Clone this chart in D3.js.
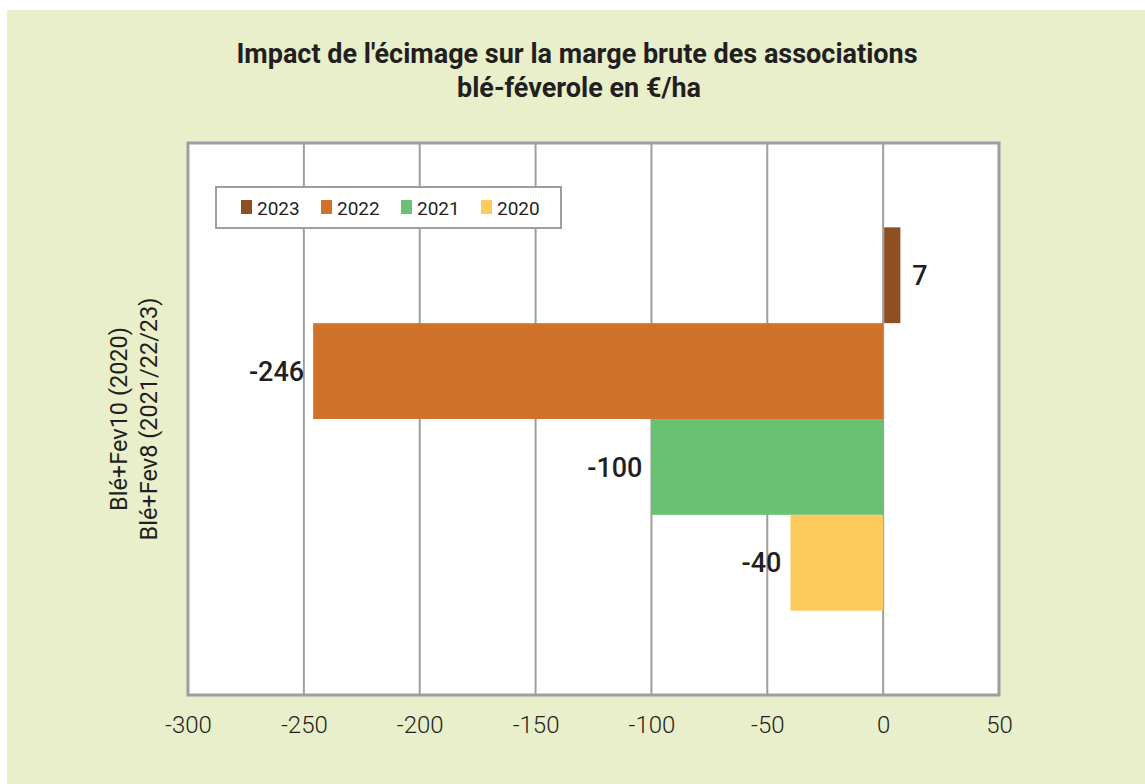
<!DOCTYPE html>
<html>
<head>
    <meta charset="utf-8">
    <title>Impact de l'écimage</title>
    <script src="https://cdn.jsdelivr.net/npm/d3@7/dist/d3.min.js"></script>
    <style>
        body { margin: 0; background: #fff; }
        .title { font-family: "Roboto", sans-serif; font-weight: bold; fill: #231f20; }
        .tick-label { font-family: "Roboto", sans-serif; font-weight: 300; fill: #231f20; }
        .legend-label { font-family: "Roboto", sans-serif; fill: #231f20; }
        .value-label { font-family: "Roboto", sans-serif; font-weight: 500; fill: #231f20; }
        .cat-label { font-family: "Roboto", sans-serif; fill: #231f20; }
    </style>
</head>
<body>
    <script>
        // data
        const categories = ["Blé+Fev10 (2020)\nBlé+Fev8 (2021/22/23)"];
        const series = ["2023", "2022", "2021", "2020"];
        const values = [7, -246, -100, -40];
        const colors = ["#8e4f22", "#d1722a", "#69c273", "#fdcb5d"];
        const xTicks = [-300, -250, -200, -150, -100, -50, 0, 50];

        const width = 1145;
        const height = 784;
        const plot = { left: 188, right: 999, top: 143, bottom: 695 };

        const svg = d3.select('body')
            .append('svg')
            .attr('width', width)
            .attr('height', height)

        // panel
        svg.append('rect')
            .attr('x', 7).attr('y', 10)
            .attr('width', width - 7).attr('height', height - 10)
            .attr('fill', '#e8efca')

        // title
        const title = svg.append('text')
            .attr('class', 'title')
            .attr('text-anchor', 'middle')
            .attr('font-size', 27)
        title.append('tspan').attr('x', 577).attr('y', 63).text("Impact de l'écimage sur la marge brute des associations")
        title.append('tspan').attr('x', 579).attr('y', 97).text("blé-féverole en €/ha")

        const x = d3.scaleLinear()
            .domain([xTicks[0], xTicks[xTicks.length - 1]])
            .range([plot.left, plot.right])

        const yCat = d3.scaleBand()
            .domain(categories)
            .range([plot.top, plot.bottom])
            .paddingInner(0)
            .paddingOuter(0.22)

        const ySer = d3.scaleBand()
            .domain(series)
            .range([0, yCat.bandwidth()])
            .padding(0)

        // plot background
        svg.append('rect')
            .attr('x', plot.left).attr('y', plot.top)
            .attr('width', plot.right - plot.left)
            .attr('height', plot.bottom - plot.top)
            .attr('fill', '#fff')

        // gridlines
        svg.append('g')
            .selectAll('line')
            .data(xTicks.slice(1, -1))
            .enter()
            .append('line')
            .attr('x1', d => x(d)).attr('x2', d => x(d))
            .attr('y1', plot.top).attr('y2', plot.bottom)
            .attr('stroke', '#9d9ea1')
            .attr('stroke-width', 2)

        // bars
        const bars = svg.append('g')
            .attr('transform', `translate(0,${yCat(categories[0])})`)
        bars.selectAll('rect')
            .data(series)
            .enter()
            .append('rect')
            .attr('x', (d, i) => values[i] < 0 ? x(values[i]) : x(0) + 1)
            .attr('width', (d, i) => Math.abs(x(values[i]) - x(0)))
            .attr('y', d => ySer(d))
            .attr('height', ySer.bandwidth())
            .attr('fill', (d, i) => colors[i])

        // frame
        svg.append('rect')
            .attr('x', plot.left).attr('y', plot.top)
            .attr('width', plot.right - plot.left)
            .attr('height', plot.bottom - plot.top)
            .attr('fill', 'none')
            .attr('stroke', '#9d9ea1')
            .attr('stroke-width', 3)

        // value labels
        bars.selectAll('text')
            .data(series)
            .enter()
            .append('text')
            .attr('class', 'value-label')
            .attr('font-size', 27)
            .attr('x', (d, i) => values[i] < 0 ? x(values[i]) - 9 : x(values[i]) + 13)
            .attr('y', d => ySer(d) + ySer.bandwidth() / 2)
            .attr('dy', '0.36em')
            .attr('text-anchor', (d, i) => values[i] < 0 ? 'end' : 'start')
            .text((d, i) => values[i])

        // x axis labels
        const xAxis = d3.axisBottom(x)
            .tickValues(xTicks)
            .tickFormat(d => String(d))
            .tickSize(0)
            .tickPadding(0)
        const axisG = svg.append('g')
            .attr('transform', `translate(0,${plot.bottom})`)
            .call(xAxis)
        axisG.select('.domain').remove()
        axisG.selectAll('text')
            .attr('class', 'tick-label')
            .attr('font-size', 24)
            .attr('dy', null)
            .attr('y', 38)

        // category label (rotated, two lines)
        const catLabel = svg.append('text')
            .attr('class', 'cat-label')
            .attr('font-size', 23.5)
            .attr('text-anchor', 'middle')
            .attr('transform', `translate(127,${yCat(categories[0]) + yCat.bandwidth() / 2}) rotate(-90)`)
        categories[0].split('\n').forEach((line, i) => {
            catLabel.append('tspan')
                .attr('x', 0)
                .attr('y', i * 30)
                .text(line)
        })

        // legend
        const legend = svg.append('g')
            .attr('transform', 'translate(216,187)')
        legend.append('rect')
            .attr('width', 345).attr('height', 41)
            .attr('fill', '#fff')
            .attr('stroke', '#9d9ea1')
            .attr('stroke-width', 2)
        const items = legend.selectAll('g.item')
            .data(series)
            .enter()
            .append('g')
            .attr('class', 'item')
            .attr('transform', (d, i) => `translate(${25 + i * 80},13)`)
        items.append('rect')
            .attr('width', 11).attr('height', 14)
            .attr('fill', (d, i) => colors[i])
        items.append('text')
            .attr('class', 'legend-label')
            .attr('font-size', 19)
            .attr('x', 16)
            .attr('y', 15)
            .text(d => d)
    </script>
</body>
</html>
